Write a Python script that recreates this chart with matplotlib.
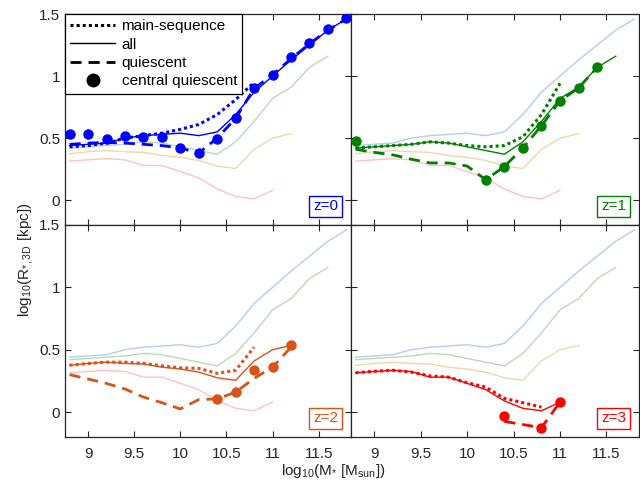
import numpy as np
import matplotlib
matplotlib.use('Agg')
import matplotlib.pyplot as plt
from matplotlib.lines import Line2D

plt.rcParams['font.family'] = ['Liberation Sans', 'DejaVu Sans']
plt.rcParams['mathtext.fontset'] = 'custom'
plt.rcParams['mathtext.rm'] = 'Liberation Sans'
plt.rcParams['mathtext.it'] = 'Liberation Sans'

nan = np.nan

# stellar mass bins, log10(M*/Msun)
mass = [8.8, 9.0, 9.2, 9.4, 9.6, 9.8, 10.0, 10.2, 10.4, 10.6, 10.8, 11.0, 11.2, 11.4, 11.6, 11.8]

# z=0
all_z0 = [0.44, 0.45, 0.46, 0.50, 0.52, 0.53, 0.54, 0.52, 0.55, 0.69, 0.87, 1.00, 1.13, 1.25, 1.37, 1.46]
ms_z0 = [0.43, 0.44, 0.46, 0.50, 0.52, 0.54, 0.57, 0.61, 0.69, 0.81, 0.95, nan, nan, nan, nan, nan]
q_z0 = [0.45, 0.46, 0.465, 0.46, 0.45, 0.44, 0.42, 0.38, 0.50, 0.66, 0.90, 1.01, 1.14, 1.26, 1.37, 1.46]
cq_z0 = [0.53, 0.53, 0.49, 0.52, 0.51, 0.505, 0.42, 0.38, 0.49, 0.66, 0.90, 1.01, 1.15, 1.27, 1.38, 1.47]

# z=1
all_z1 = [0.42, 0.43, 0.44, 0.45, 0.47, 0.46, 0.43, 0.40, 0.37, 0.47, 0.635, 0.82, 0.91, 1.07, 1.16, nan]
ms_z1 = [0.42, 0.43, 0.44, 0.45, 0.47, 0.46, 0.44, 0.43, 0.44, 0.51, 0.69, 0.94, nan, nan, nan, nan]
q_z1 = [0.41, 0.385, 0.365, 0.33, 0.30, 0.30, 0.275, 0.165, 0.27, 0.42, 0.60, 0.80, 0.905, 1.07, nan, nan]
cq_z1 = [0.48, nan, nan, nan, nan, nan, nan, 0.165, 0.27, 0.42, 0.60, 0.80, 0.905, 1.07, nan, nan]

# z=2
all_z2 = [0.375, 0.39, 0.40, 0.39, 0.385, 0.36, 0.345, 0.32, 0.275, 0.255, 0.41, 0.50, 0.535, nan, nan, nan]
ms_z2 = [0.375, 0.39, 0.40, 0.40, 0.39, 0.37, 0.355, 0.35, 0.31, 0.335, 0.52, nan, nan, nan, nan, nan]
q_z2 = [0.30, 0.265, 0.23, 0.185, 0.12, 0.075, 0.025, 0.10, 0.105, 0.16, 0.27, 0.36, 0.52, nan, nan, nan]
cq_z2 = [nan, nan, nan, nan, nan, nan, nan, nan, 0.105, 0.16, 0.335, 0.36, 0.54, nan, nan, nan]

# z=3
all_z3 = [0.315, 0.325, 0.335, 0.325, 0.28, 0.28, 0.23, 0.18, 0.09, 0.03, 0.01, 0.08, nan, nan, nan, nan]
ms_z3 = [0.315, 0.327, 0.335, 0.32, 0.29, 0.28, 0.235, 0.20, 0.11, 0.075, 0.04, nan, nan, nan, nan, nan]
q_z3 = [nan, nan, nan, nan, nan, nan, nan, nan, -0.075, -0.10, -0.125, 0.08, nan, nan, nan, nan]
cq_z3 = [nan, nan, nan, nan, nan, nan, nan, nan, -0.03, nan, -0.125, 0.08, nan, nan, nan, nan]

redshifts = ['z=0', 'z=1', 'z=2', 'z=3']
colors = ['#0000ff', '#008000', '#d95319', '#ff0000']
faint_colors = ['#b4cdf3', '#b9dab9', '#f2d6ab', '#ffc2c2']
all_lines = [all_z0, all_z1, all_z2, all_z3]
ms_lines = [ms_z0, ms_z1, ms_z2, ms_z3]
q_lines = [q_z0, q_z1, q_z2, q_z3]
cq_points = [cq_z0, cq_z1, cq_z2, cq_z3]

fig = plt.figure(figsize=(6.4, 4.84), dpi=100)

x0, xm, x1 = 65 / 640, 351 / 640, 639 / 640
y1, ym, y0 = 1 - 14 / 484, 1 - 225 / 484, 1 - 437 / 484
rects = [
    [x0, ym, xm - x0, y1 - ym],
    [xm, ym, x1 - xm, y1 - ym],
    [x0, y0, xm - x0, ym - y0],
    [xm, y0, x1 - xm, ym - y0],
]

axes = []
for i, rect in enumerate(rects):
    ax = fig.add_axes(rect)
    axes.append(ax)

    # the other redshifts' "all" curves in pale colours
    for j in range(4):
        if j != i:
            ax.plot(mass, all_lines[j], color=faint_colors[j], lw=1.0, zorder=1)

    c = colors[i]
    ax.plot(mass, all_lines[i], color=c, lw=1.0, zorder=3)
    ax.plot(mass, ms_lines[i], color=c, lw=2.2, dashes=(1, 1), dash_capstyle='butt', zorder=4)
    ax.plot(mass, q_lines[i], color=c, lw=2.0, dashes=(4, 2.5), dash_capstyle='butt', zorder=4)
    ax.plot(mass, cq_points[i], color=c, ls='none', marker='o', ms=6.5, zorder=5)

    ax.text(0.955, 0.055, redshifts[i], transform=ax.transAxes, ha='right', va='bottom',
            color=c, fontsize=11,
            bbox=dict(boxstyle='square,pad=0.25', facecolor='white', edgecolor=c, lw=1))

    ax.set_xlim(8.75, 11.85)
    ax.set_ylim(-0.2, 1.5)
    ax.set_xticks([9, 9.5, 10, 10.5, 11, 11.5])
    ax.set_xticklabels(['9', '9.5', '10', '10.5', '11', '11.5'])
    ax.set_yticks([0, 0.5, 1, 1.5])
    ax.set_yticklabels(['0', '0.5', '1', '1.5'])
    ax.tick_params(direction='in', top=True, right=True, length=4, width=0.8,
                   labelsize=11, colors='#262626')
    ax.tick_params(axis='x', pad=7)
    for sp in ax.spines.values():
        sp.set_color('#262626')
        sp.set_linewidth(0.9)
    if i in (0, 1):
        ax.tick_params(labelbottom=False)
    if i in (1, 3):
        ax.tick_params(labelleft=False)

handles = [
    Line2D([], [], color='k', lw=2.2, dashes=(1, 1), dash_capstyle='butt'),
    Line2D([], [], color='k', lw=1.0),
    Line2D([], [], color='k', lw=2.0, dashes=(4, 2.5), dash_capstyle='butt'),
    Line2D([], [], color='k', ls='none', marker='o', ms=9),
]
labels = ['main-sequence', 'all', 'quiescent', 'central quiescent']
leg = axes[0].legend(handles, labels, loc='upper left', fontsize=11, frameon=True,
                     fancybox=False, edgecolor='k', framealpha=1, borderaxespad=0,
                     handlelength=2.9, handletextpad=0.45, labelspacing=0.28, borderpad=0.35)
leg.get_frame().set_linewidth(0.9)
leg.set_zorder(10)

fig.text(0.04, 0.463, r'log$_{10}$(R$_{*,3D}$ [kpc])', rotation=90, ha='center', va='center',
         fontsize=11, color='#262626')
fig.text(0.52, 0.027, r'log$_{10}$(M$_{*}$ [M$_{\rm sun}$])', ha='center', va='center',
         fontsize=11, color='#262626')

fig.savefig('out.png', dpi=100)
